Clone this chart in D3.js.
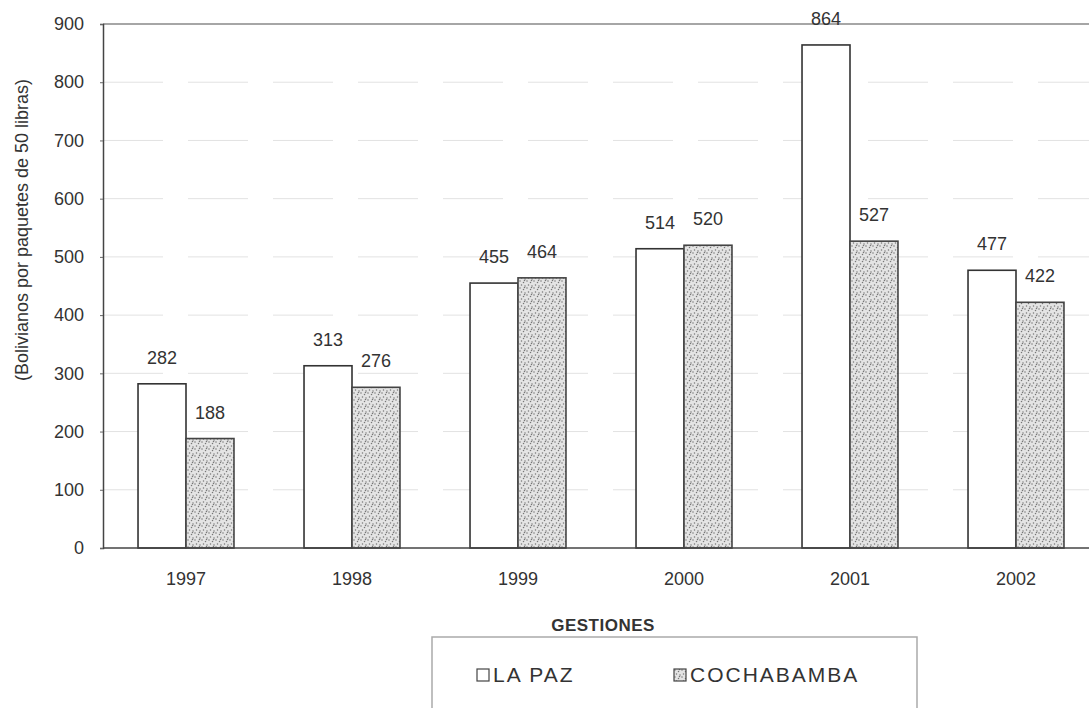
<!DOCTYPE html>
<html>
    <head>
        <script src="https://d3js.org/d3.v7.min.js"></script>
        <style>
            body { margin: 0; background: #fff; }
            text { font-family: 'Liberation Sans', Arial, sans-serif; fill: #333; }
        </style>
    </head>
    <body>
        <script>
            const years = ['1997', '1998', '1999', '2000', '2001', '2002']
            const series = ['LA PAZ', 'COCHABAMBA']
            const laPaz = [282, 313, 455, 514, 864, 477]
            const cochabamba = [188, 276, 464, 520, 527, 422]
            const yTicks = [0, 100, 200, 300, 400, 500, 600, 700, 800, 900]

            const W = 1089, H = 708
            const plot = { left: 103, right: 1099, top: 24, bottom: 548 }

            const svg = d3.select('body').append('svg')
                .attr('width', W).attr('height', H)

            const defs = svg.append('defs')
            const pat = defs.append('pattern')
                .attr('id', 'stipple')
                .attr('patternUnits', 'userSpaceOnUse')
                .attr('width', 7).attr('height', 7)
            pat.append('rect').attr('width', 7).attr('height', 7).attr('fill', '#e4e4e4')
            const dots = [[1, 1], [4.5, 2.5], [2.5, 5], [6, 6], [5.5, 0.5]]
            pat.selectAll('circle').data(dots).enter().append('circle')
                .attr('cx', d => d[0]).attr('cy', d => d[1])
                .attr('r', 0.75).attr('fill', '#777')

            const y = d3.scaleLinear().domain([0, 900]).range([plot.bottom, plot.top])
            const x0 = d3.scaleBand().domain(years).range([plot.left, plot.right])
            const x1 = d3.scaleBand().domain(series).range([0, x0.bandwidth()])
                .paddingInner(0).paddingOuter(0.73)

            // gridlines
            svg.append('g').selectAll('line')
                .data(yTicks.filter(t => t > 0 && t < 900)).enter()
                .append('line')
                .attr('x1', plot.left).attr('x2', W)
                .attr('y1', d => y(d)).attr('y2', d => y(d))
                .attr('stroke', '#e2e2e2').attr('stroke-width', 1)
                .attr('stroke-dasharray', '60,25')

            svg.append('line')
                .attr('x1', plot.left).attr('x2', W)
                .attr('y1', y(900)).attr('y2', y(900))
                .attr('stroke', '#888').attr('stroke-width', 1.5)

            // y axis
            const yAxis = svg.append('g')
                .attr('transform', `translate(${plot.left},0)`)
                .call(d3.axisLeft(y).tickValues(yTicks).tickSize(3).tickPadding(16))
            yAxis.select('.domain').attr('stroke', '#444').attr('stroke-width', 1.5)
            yAxis.selectAll('.tick line').attr('stroke', '#666')
            yAxis.selectAll('text').attr('font-size', 18).attr('fill', '#444')
                .attr('font-family', 'Liberation Sans, Arial, sans-serif')

            const groups = years.map((yr, i) => ({
                year: yr,
                vals: [
                    { s: series[0], v: laPaz[i] },
                    { s: series[1], v: cochabamba[i] }
                ]
            }))

            const fills = { 'LA PAZ': '#fff', 'COCHABAMBA': 'url(#stipple)' }

            const g = svg.append('g').selectAll('g')
                .data(groups).enter().append('g')
                .attr('transform', d => `translate(${x0(d.year)},0)`)

            g.selectAll('rect').data(d => d.vals).enter().append('rect')
                .attr('x', d => x1(d.s))
                .attr('y', d => y(d.v))
                .attr('width', x1.bandwidth())
                .attr('height', d => y(0) - y(d.v))
                .attr('fill', d => fills[d.s])
                .attr('stroke', d => d.s === 'LA PAZ' ? '#333' : '#444')
                .attr('stroke-width', 1.6)

            g.selectAll('text.val').data(d => d.vals).enter().append('text')
                .attr('class', 'val')
                .attr('x', d => x1(d.s) + x1.bandwidth() / 2)
                .attr('y', d => y(d.v) - 20)
                .attr('text-anchor', 'middle')
                .attr('font-size', 18)
                .text(d => d.v)

            // x axis
            const xAxis = svg.append('g')
                .attr('transform', `translate(0,${plot.bottom})`)
                .call(d3.axisBottom(x0).tickSize(0).tickPadding(24))
            xAxis.select('.domain').attr('d', `M${plot.left},0H${W}`)
                .attr('stroke', '#444').attr('stroke-width', 1.5)
            xAxis.selectAll('text').attr('font-size', 18).attr('fill', '#444')
                .attr('font-family', 'Liberation Sans, Arial, sans-serif')

            svg.append('text')
                .attr('x', 603).attr('y', 631)
                .attr('text-anchor', 'middle')
                .attr('font-size', 17).attr('font-weight', 'bold')
                .attr('letter-spacing', 0.5)
                .text('GESTIONES')

            svg.append('text')
                .attr('transform', 'translate(28,230) rotate(-90)')
                .attr('text-anchor', 'middle')
                .attr('font-size', 18)
                .text('(Bolivianos por paquetes de 50 libras)')

            // legend
            svg.append('rect')
                .attr('x', 432).attr('y', 637)
                .attr('width', 485).attr('height', 120)
                .attr('fill', 'none').attr('stroke', '#aaa').attr('stroke-width', 1.5)

            const legendX = [477, 674]
            const leg = svg.append('g').selectAll('g')
                .data(series).enter().append('g')
                .attr('transform', (d, i) => `translate(${legendX[i]},669)`)
            leg.append('rect')
                .attr('width', 12).attr('height', 12)
                .attr('fill', d => fills[d])
                .attr('stroke', '#444').attr('stroke-width', 1.2)
            leg.append('text')
                .attr('x', 16).attr('y', 13)
                .attr('font-size', 21)
                .attr('letter-spacing', 2)
                .text(d => d)
        </script>
    </body>
</html>
